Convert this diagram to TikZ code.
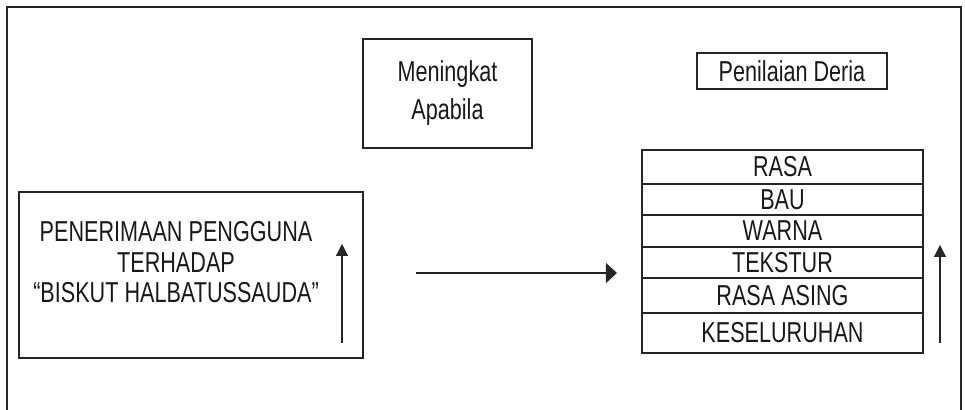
\documentclass[tikz,border=0pt]{standalone}
\usepackage{fontspec}
\setmainfont{Liberation Sans}[FakeStretch=0.75]
\usetikzlibrary{arrows.meta}

\begin{document}
\begin{tikzpicture}[
  box/.style={draw=black!85, line width=1.2pt, inner sep=0pt},
  row/.style={draw=black!85, line width=1.05pt, minimum width=7.025cm, inner sep=0pt},
  txt/.style={font=\fontsize{20.5}{21.7}\selectfont, text=black!90}
]
  \useasboundingbox (0,0) rectangle (24.125,10.25);
  \draw [line width=1.4pt, color=black!85] (0.175,0) -- (0.175,10.075) -- (24.025,10.075) -- (24.025,0);

  \node [box, minimum width=4.225cm, minimum height=2.725cm, txt, align=center, font=\fontsize{20.5}{27}\selectfont] (apabila) at (11.1875,7.9125) {Meningkat\\Apabila};
  \node [box, minimum width=4.75cm, minimum height=0.9cm, txt] (deria) at (19.8,8.475) {Penilaian Deria};

  \node [box, minimum width=8.6cm, minimum height=4.15cm] (terima) at (4.775,3.375) {};
  \node [txt, align=center] (terimateks) at (4.4,3.6875) {PENERIMAAN PENGGUNA\\TERHADAP\\“BISKUT HALBATUSSAUDA”};

  \node [row, txt, minimum height=0.85cm] (rasa) at (19.5625,6.075) {RASA};
  \node [row, txt, minimum height=0.775cm] (bau) at (19.5625,5.2625) {BAU};
  \node [row, txt, minimum height=0.8cm] (warna) at (19.5625,4.475) {WARNA};
  \node [row, txt, minimum height=0.775cm] (tekstur) at (19.5625,3.6875) {TEKSTUR};
  \node [row, txt, minimum height=0.875cm] (asing) at (19.5625,2.8625) {RASA ASING};
  \node [row, txt, minimum height=1cm] (seluruh) at (19.5625,1.925) {KESELURUHAN};

  \coordinate (mula) at (10.4,3.425);
  \coordinate (hujung) at (15.425,3.425);
  \draw [line width=1.6pt, color=black!85, -{Triangle[length=0.28cm,width=0.5cm]}] (mula) -- (hujung);

  \coordinate (naikA0) at (8.55,1.675);
  \coordinate (naikA1) at (8.55,4.15);
  \draw [line width=0.9pt, color=black!85, -{Triangle[length=0.3cm,width=0.3cm]}] (naikA0) -- (naikA1);

  \coordinate (naikB0) at (23.5,1.675);
  \coordinate (naikB1) at (23.5,4.125);
  \draw [line width=0.9pt, color=black!85, -{Triangle[length=0.3cm,width=0.3cm]}] (naikB0) -- (naikB1);
\end{tikzpicture}
\end{document}
